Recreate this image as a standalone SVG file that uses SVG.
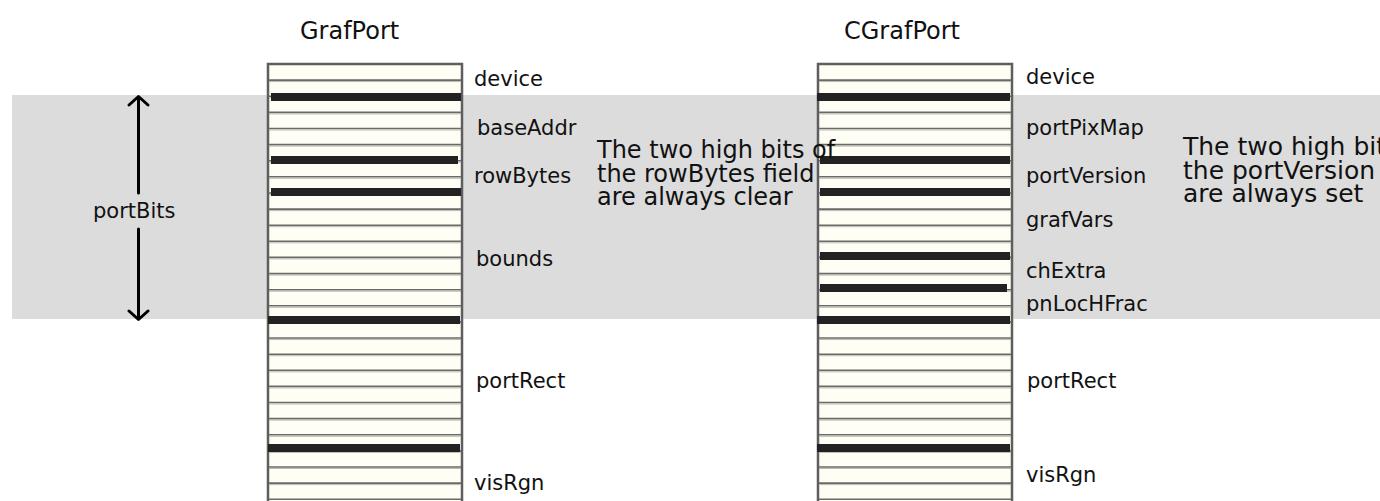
<svg xmlns="http://www.w3.org/2000/svg" xmlns:xlink="http://www.w3.org/1999/xlink" width="1380" height="501" viewBox="0 0 1380 501">
<style>
.title{font-family:"DejaVu Sans",sans-serif;font-size:24px;fill:#111}
.lbl{font-family:"DejaVu Sans",sans-serif;font-size:21px;fill:#111}
.note{font-family:"DejaVu Sans",sans-serif;font-size:24px;fill:#111}
.note2{font-family:"DejaVu Sans",sans-serif;font-size:25px;fill:#111}
.col{fill:#fffef5;stroke:#5e5e5e;stroke-width:2.5}
.rl{stroke:#6a6a6a;stroke-width:1.6}
.rh{stroke:#b9b9b0;stroke-width:1}
.bar{fill:#222}
.arr{stroke:#000;stroke-width:3;fill:none;stroke-linecap:round;stroke-linejoin:round}
</style>
<defs>
<g id="rows">
<path class="rl" d="M1 80.1H193M1 96.2H193M1 112.4H193M1 128.5H193M1 144.6H193M1 160.7H193M1 176.8H193M1 193H193M1 209.1H193M1 225.2H193M1 241.3H193M1 257.4H193M1 273.6H193M1 289.7H193M1 305.8H193M1 321.9H193M1 338H193M1 354.2H193M1 370.3H193M1 386.4H193M1 402.5H193M1 418.6H193M1 434.8H193M1 450.9H193M1 467H193M1 483.1H193M1 499.2H193"/>
<path class="rh" d="M1 81.6H193M1 97.7H193M1 113.9H193M1 130H193M1 146.1H193M1 162.2H193M1 178.3H193M1 194.5H193M1 210.6H193M1 226.7H193M1 242.8H193M1 258.9H193M1 275.1H193M1 291.2H193M1 307.3H193M1 323.4H193M1 339.5H193M1 355.7H193M1 371.8H193M1 387.9H193M1 404H193M1 420.1H193M1 436.3H193M1 452.4H193M1 468.5H193M1 484.6H193"/>
</g>
</defs>
<rect id="band" x="12" y="95" width="1368" height="224" fill="#dcdcdc"/>

<g id="grafport">
<text class="title" x="300" y="39">GrafPort</text>
<rect class="col" x="268" y="64" width="194" height="440"/>
<use xlink:href="#rows" href="#rows" transform="translate(268,0)"/>
<rect class="bar" x="271" y="93" width="190" height="8"/>
<rect class="bar" x="271" y="156" width="187" height="8"/>
<rect class="bar" x="271" y="188" width="190" height="8"/>
<rect class="bar" x="268" y="316" width="192" height="8"/>
<rect class="bar" x="268" y="444" width="192" height="8"/>
<text class="lbl" x="474" y="86">device</text>
<text class="lbl" x="477" y="135">baseAddr</text>
<text class="lbl" x="474" y="183">rowBytes</text>
<text class="lbl" x="476" y="266">bounds</text>
<text class="lbl" x="476" y="388">portRect</text>
<text class="lbl" x="474" y="490">visRgn</text>
</g>

<g id="cgrafport">
<text class="title" x="844" y="39">CGrafPort</text>
<rect class="col" x="818" y="64" width="194" height="440"/>
<use xlink:href="#rows" href="#rows" transform="translate(818,0)"/>
<rect class="bar" x="817" y="93" width="193" height="8"/>
<rect class="bar" x="820" y="156" width="190" height="8"/>
<rect class="bar" x="820" y="188" width="190" height="8"/>
<rect class="bar" x="820" y="252" width="190" height="8"/>
<rect class="bar" x="820" y="284" width="187" height="8"/>
<rect class="bar" x="817" y="316" width="193" height="8"/>
<rect class="bar" x="817" y="444" width="193" height="8"/>
<text class="lbl" x="1026" y="84">device</text>
<text class="lbl" x="1026" y="135">portPixMap</text>
<text class="lbl" x="1026" y="183">portVersion</text>
<text class="lbl" x="1026" y="227">grafVars</text>
<text class="lbl" x="1026" y="278">chExtra</text>
<text class="lbl" x="1026" y="311">pnLocHFrac</text>
<text class="lbl" x="1027" y="388">portRect</text>
<text class="lbl" x="1026" y="482">visRgn</text>
</g>

<g id="note-rowbytes">
<text class="note" x="597" y="158">The two high bits of</text>
<text class="note" x="597" y="182">the rowBytes field</text>
<text class="note" x="597" y="205">are always clear</text>
</g>

<g id="note-portversion">
<text class="note2" x="1183" y="155">The two high bits of</text>
<text class="note2" x="1183" y="179">the portVersion field</text>
<text class="note2" x="1183" y="202">are always set</text>
</g>

<g id="portbits">
<text class="lbl" x="93" y="218">portBits</text>
</g>

<g id="connectors">
<path class="arr" d="M138.5 97V193M129 105L138.5 96.5L148 105"/>
<path class="arr" d="M138.5 229V319M129 311L138.5 319.5L148 311"/>
</g>
</svg>
